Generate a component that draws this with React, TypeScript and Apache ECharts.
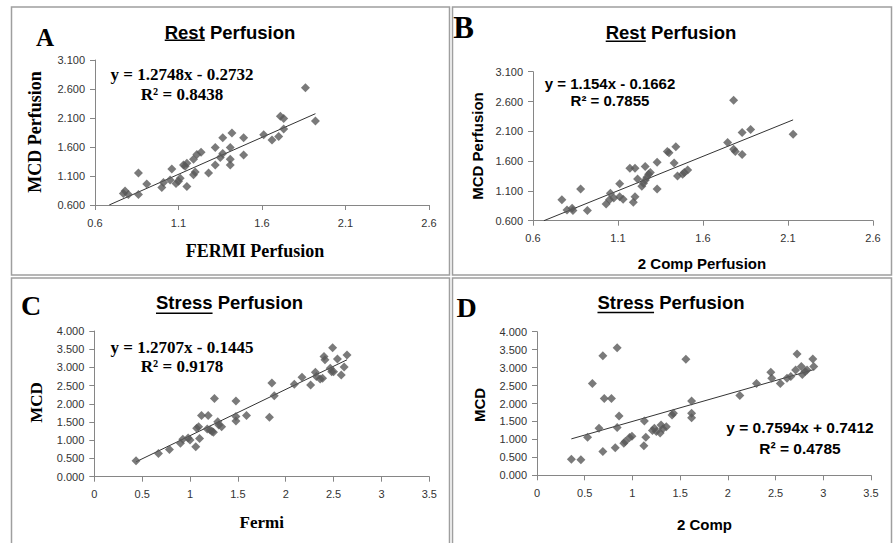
import React, { useEffect, useRef } from "react";
import * as echarts from "echarts";

// ---------- data ----------
const restXTicks = [0.6, 1.1, 1.6, 2.1, 2.6];
const restYTicks = [0.6, 1.1, 1.6, 2.1, 2.6, 3.1];
const stressXTicks = [0, 0.5, 1, 1.5, 2, 2.5, 3, 3.5];
const stressYTicks = [0, 0.5, 1, 1.5, 2, 2.5, 3, 3.5, 4];

// Panel A: FERMI vs MCD (rest)
const restFermiVsMcd: [number, number][] = [
  [0.77, 0.8], [0.78, 0.84], [0.8, 0.78], [0.86, 1.15], [0.86, 0.78], [0.91, 0.96],
  [1.0, 0.9], [1.01, 0.99], [1.05, 1.03], [1.06, 1.22], [1.085, 0.97], [1.1, 1.01],
  [1.11, 1.06], [1.13, 1.29], [1.14, 1.27], [1.15, 1.32], [1.15, 0.92], [1.19, 1.12],
  [1.2, 1.17], [1.19, 1.39], [1.21, 1.47], [1.235, 1.51], [1.28, 1.15], [1.32, 1.29],
  [1.35, 1.42], [1.365, 1.49], [1.32, 1.59], [1.365, 1.76], [1.41, 1.29], [1.41, 1.39],
  [1.41, 1.59], [1.42, 1.84], [1.49, 1.46], [1.49, 1.76], [1.61, 1.81], [1.66, 1.72],
  [1.7, 1.78], [1.73, 1.91], [1.71, 2.13], [1.73, 2.09], [1.86, 2.62], [1.92, 2.05],
];
// Panel B: 2 Comp vs MCD (rest)
const rest2CompVsMcd: [number, number][] = [
  [0.77, 0.95], [0.8, 0.78], [0.83, 0.81], [0.835, 0.77], [0.88, 1.13], [0.92, 0.77],
  [1.03, 0.88], [1.05, 0.95], [1.055, 1.06], [1.075, 0.98], [1.11, 1.0], [1.11, 1.22],
  [1.13, 0.96], [1.17, 1.48], [1.19, 0.91], [1.2, 1.0], [1.2, 1.48], [1.215, 1.3],
  [1.24, 1.18], [1.25, 1.23], [1.26, 1.28], [1.26, 1.51], [1.27, 1.33], [1.28, 1.38],
  [1.29, 1.41], [1.33, 1.13], [1.33, 1.58], [1.39, 1.76], [1.4, 1.74], [1.43, 1.57],
  [1.44, 1.84], [1.45, 1.35], [1.48, 1.38], [1.49, 1.41], [1.51, 1.45], [1.745, 1.91],
  [1.78, 1.8], [1.79, 1.76], [1.78, 2.62], [1.83, 1.71], [1.83, 2.08], [1.88, 2.13],
  [2.13, 2.05],
];
// Panel C: Fermi vs MCD (stress)
const stressFermiVsMcd: [number, number][] = [
  [0.436, 0.44], [0.67, 0.64], [0.785, 0.75], [0.9, 0.92], [0.925, 1.03], [0.98, 1.06],
  [1.0, 1.01], [1.06, 0.82], [1.07, 1.33], [1.09, 1.37], [1.1, 1.05], [1.12, 1.68],
  [1.19, 1.68], [1.18, 1.31], [1.21, 1.28], [1.23, 1.24], [1.245, 1.22], [1.255, 2.15],
  [1.29, 1.51], [1.3, 1.42], [1.33, 1.37], [1.48, 2.08], [1.48, 1.65], [1.48, 1.53],
  [1.59, 1.68], [1.83, 1.63], [1.855, 2.57], [1.88, 2.22], [2.09, 2.54], [2.17, 2.73],
  [2.26, 2.52], [2.31, 2.87], [2.32, 2.75], [2.36, 2.68], [2.385, 2.7], [2.4, 3.3],
  [2.41, 3.21], [2.465, 2.98], [2.48, 2.88], [2.5, 2.88], [2.49, 3.54], [2.54, 3.23],
  [2.58, 2.79], [2.61, 3.01], [2.64, 3.34],
];
// Panel D: 2 Comp vs MCD (stress)
const stress2CompVsMcd: [number, number][] = [
  [0.36, 0.45], [0.46, 0.43], [0.53, 1.06], [0.58, 2.56], [0.65, 1.31], [0.69, 3.33],
  [0.69, 0.66], [0.705, 2.14], [0.78, 2.14], [0.82, 0.77], [0.84, 3.55], [0.84, 1.33],
  [0.86, 1.65], [0.91, 0.89], [0.925, 0.94], [0.97, 1.05], [0.995, 1.09], [1.12, 0.82],
  [1.125, 1.51], [1.14, 1.06], [1.21, 1.25], [1.23, 1.31], [1.25, 1.22], [1.29, 1.18],
  [1.3, 1.4], [1.32, 1.3], [1.355, 1.35], [1.415, 1.68], [1.43, 1.73], [1.56, 3.23],
  [1.62, 1.73], [1.62, 1.6], [1.62, 2.07], [2.125, 2.22], [2.3, 2.56], [2.45, 2.87],
  [2.46, 2.7], [2.55, 2.56], [2.62, 2.7], [2.66, 2.75], [2.71, 2.93], [2.725, 3.38],
  [2.77, 3.03], [2.78, 2.81], [2.81, 2.89], [2.83, 2.93], [2.89, 3.24], [2.9, 3.03],
];

// trendlines: [slope, intercept], x range drawn
const trendCoefs = [
  [1.2748, -0.2732],
  [1.154, -0.1662],
  [1.2707, -0.1445],
  [0.7594, 0.7412],
];
const trendRanges = [
  [0.685, 1.92],
  [0.664, 2.13],
  [0.436, 2.64],
  [0.36, 2.9],
];
const equationLines = [
  ["y = 1.2748x - 0.2732", "R² = 0.8438"],
  ["y = 1.154x - 0.1662", "R² = 0.7855"],
  ["y = 1.2707x - 0.1445", "R² = 0.9178"],
  ["y = 0.7594x + 0.7412", "R² = 0.4785"],
];
const panelLetters = ["A", "B", "C", "D"];
const titleUnderlined = ["Rest", "Rest", "Stress", "Stress"];
const titleRest = [" Perfusion", " Perfusion", " Perfusion", " Perfusion"];
const xTitles = ["FERMI Perfusion", "2 Comp Perfusion", "Fermi", "2 Comp"];
const yTitles = ["MCD Perfusion", "MCD Perfusion", "MCD", "MCD"];

// ---------- layout ----------
const SERIF = "'Liberation Serif', 'Times New Roman', serif";
const SANS = "'Liberation Sans', Arial, sans-serif";
const grids = [
  { left: 95, top: 60, width: 334, height: 145 },
  { left: 533, top: 71.7, width: 340, height: 149 },
  { left: 94.3, top: 331, width: 335, height: 145.7 },
  { left: 537, top: 331.7, width: 334, height: 143.6 },
];
const panelStyle = [
  {
    letter: { x: 45, y: 37.5, size: 25 },
    title: { cx: 230, cy: 32, ul: 40.3 },
    xt: { cx: 255, cy: 251, font: `bold 18px ${SERIF}` },
    yt: { cx: 35, cy: 132, font: `bold 18px ${SERIF}` },
    eq: { cx: 182, y1: 74, y2: 94, font: `bold 17px ${SERIF}` },
  },
  {
    letter: { x: 463.5, y: 27, size: 31 },
    title: { cx: 671, cy: 32, ul: 41.3 },
    xt: { cx: 702, cy: 263, font: `bold 15px ${SANS}` },
    yt: { cx: 477, cy: 146, font: `bold 15px ${SANS}` },
    eq: { cx: 610, y1: 83, y2: 100, font: `bold 15px ${SANS}` },
  },
  {
    letter: { x: 31, y: 305, size: 28 },
    title: { cx: 229.5, cy: 302.5, ul: 313.3 },
    xt: { cx: 261.7, cy: 522, font: `bold 17px ${SERIF}` },
    yt: { cx: 36.7, cy: 402.5, font: `bold 17px ${SERIF}` },
    eq: { cx: 182, y1: 347, y2: 366, font: `bold 17px ${SERIF}` },
  },
  {
    letter: { x: 466.5, y: 307, size: 28 },
    title: { cx: 671, cy: 302.5, ul: 312.5 },
    xt: { cx: 704.5, cy: 524, font: `bold 15px ${SANS}` },
    yt: { cx: 479, cy: 405, font: `bold 15px ${SANS}` },
    eq: { cx: 800, y1: 427.5, y2: 448.3, font: `bold 15.5px ${SANS}` },
  },
];
const borders = [
  { x: 11.5, y: 7, w: 438, h: 268 },
  { x: 452.5, y: 7, w: 439, h: 268 },
  { x: 11.5, y: 278, w: 438, h: 300 },
  { x: 452.5, y: 278, w: 439, h: 300 },
];

const TITLE_FONT = `bold 18.5px ${SANS}`;

function measure(text: string, font: string): number {
  const ctx = document.createElement("canvas").getContext("2d");
  if (!ctx) return text.length * 8;
  ctx.font = font;
  return ctx.measureText(text).width;
}

function txt(text: string, x: number, y: number, font: string, extra: any = {}) {
  return {
    type: "text",
    x,
    y,
    silent: true,
    ...extra,
    style: {
      text,
      font,
      fill: "#000",
      align: "center",
      verticalAlign: "middle",
      textAlign: "center",
      textVerticalAlign: "middle",
    },
  };
}

export default function App() {
  const ref = useRef<HTMLDivElement>(null);
  useEffect(() => {
    if (!ref.current) return;
    const chart = echarts.init(ref.current, undefined, { renderer: "svg" });

    const datasets = [restFermiVsMcd, rest2CompVsMcd, stressFermiVsMcd, stress2CompVsMcd];
    const xTickSets = [restXTicks, restXTicks, stressXTicks, stressXTicks];
    const yTickSets = [restYTicks, restYTicks, stressYTicks, stressYTicks];

    const axisCommon = (gridIndex: number, ticks: number[], fmt: (v: number) => string, isX: boolean) => ({
      type: "value",
      gridIndex,
      min: ticks[0],
      max: ticks[ticks.length - 1],
      axisLine: { show: true, onZero: false, lineStyle: { color: "#868686", width: 1 } },
      axisTick: { show: true, inside: false, length: 5, customValues: ticks, lineStyle: { color: "#868686" } },
      axisLabel: {
        customValues: ticks,
        formatter: (v: number) => fmt(v),
        margin: isX ? 12 : 10,
        fontSize: 11,
        fontFamily: SANS,
        color: "#333",
      },
      splitLine: { show: false },
    });

    const xAxes = xTickSets.map((t, i) =>
      axisCommon(i, t, (v) => (i < 2 ? v.toFixed(1) : String(Math.round(v * 10) / 10)), true)
    );
    const yAxes = yTickSets.map((t, i) => axisCommon(i, t, (v) => v.toFixed(3), false));

    const series: any[] = [];
    datasets.forEach((d, i) => {
      series.push({
        type: "scatter",
        xAxisIndex: i,
        yAxisIndex: i,
        data: d,
        symbol: "diamond",
        symbolSize: 9,
        itemStyle: { color: "#595959" },
        silent: true,
      });
      const [m, b] = trendCoefs[i];
      const [x0, x1] = trendRanges[i];
      series.push({
        type: "line",
        xAxisIndex: i,
        yAxisIndex: i,
        data: [
          [x0, m * x0 + b],
          [x1, m * x1 + b],
        ],
        symbol: "none",
        showSymbol: false,
        lineStyle: { color: "#333", width: 1 },
        silent: true,
        clip: true,
        z: 1,
      });
    });

    const graphics: any[] = [];
    borders.forEach((r) => {
      graphics.push({
        type: "rect",
        silent: true,
        shape: { x: r.x, y: r.y, width: r.w, height: r.h },
        style: { fill: "none", stroke: "#9f9f9f", lineWidth: 1.5 },
      });
    });
    panelStyle.forEach((p, i) => {
      graphics.push(txt(panelLetters[i], p.letter.x, p.letter.y, `bold ${p.letter.size}px ${SERIF}`));
      const full = titleUnderlined[i] + titleRest[i];
      const w = measure(full, TITLE_FONT);
      const wu = measure(titleUnderlined[i], TITLE_FONT);
      const startX = p.title.cx - w / 2;
      graphics.push(txt(full, p.title.cx, p.title.cy, TITLE_FONT));
      graphics.push({
        type: "line",
        silent: true,
        shape: { x1: startX, y1: p.title.ul, x2: startX + wu, y2: p.title.ul },
        style: { stroke: "#000", lineWidth: 1.5 },
      });
      graphics.push(txt(xTitles[i], p.xt.cx, p.xt.cy, p.xt.font));
      graphics.push(txt(yTitles[i], p.yt.cx, p.yt.cy, p.yt.font, { rotation: Math.PI / 2 }));
      graphics.push(txt(equationLines[i][0], p.eq.cx, p.eq.y1, p.eq.font));
      graphics.push(txt(equationLines[i][1], p.eq.cx, p.eq.y2, p.eq.font));
    });

    chart.setOption({
      animation: false,
      backgroundColor: "#ffffff",
      grid: grids.map((g) => ({ ...g, containLabel: false })),
      xAxis: xAxes,
      yAxis: yAxes,
      series,
      graphic: { elements: graphics },
    });
    return () => chart.dispose();
  }, []);

  return (
    <div
      ref={ref}
      style={{ position: "absolute", left: 0, top: 0, width: 894, height: 543, background: "#fff" }}
    />
  );
}
